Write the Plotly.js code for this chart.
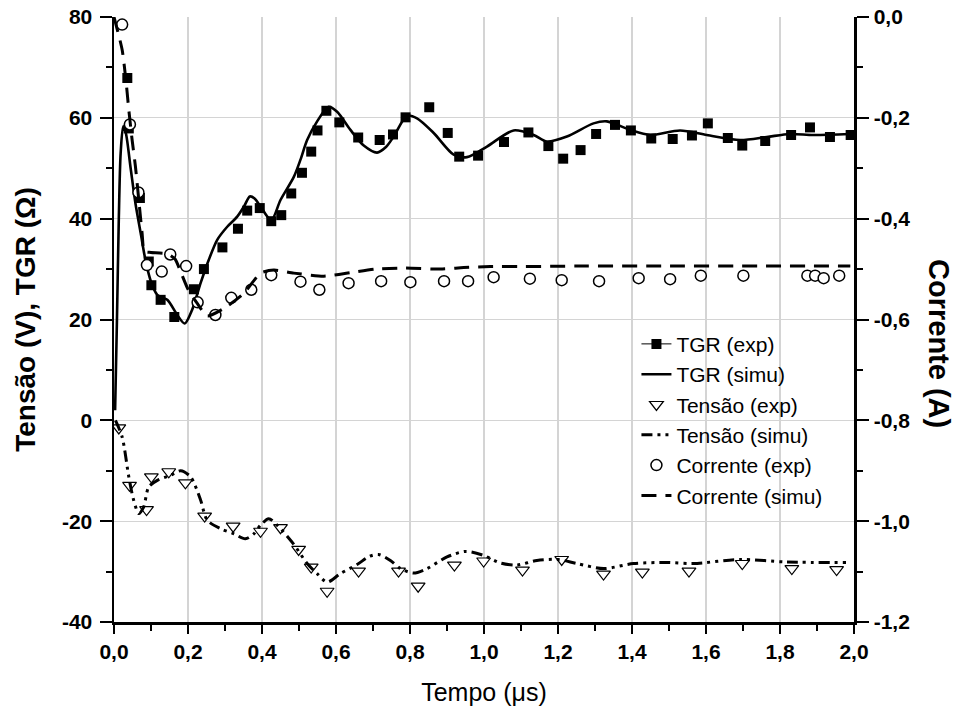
<!DOCTYPE html>
<html>
<head>
<meta charset="utf-8">
<script src="https://cdn.plot.ly/plotly-3.0.1.min.js"></script>
<style>
  html, body { margin: 0; padding: 0; background: #ffffff; }
  #chart { width: 958px; height: 715px; }
</style>
</head>
<body>
<div id="chart"></div>
<script>
// ---------- data (time in µs) ----------
// TGR experimental (Ω)
const tgrExpX = [0.036, 0.04, 0.07, 0.094, 0.101, 0.126, 0.163, 0.216, 0.243, 0.293, 0.335, 0.36, 0.394, 0.425, 0.452, 0.479, 0.508, 0.533, 0.55, 0.574, 0.609, 0.66, 0.718, 0.754, 0.788, 0.852, 0.902, 0.933, 0.984, 1.054, 1.12, 1.174, 1.214, 1.261, 1.303, 1.354, 1.397, 1.452, 1.51, 1.562, 1.605, 1.659, 1.698, 1.76, 1.83, 1.881, 1.935, 1.991];
const tgrExpY = [67.9, 57.9, 44.1, 31.5, 26.8, 23.9, 20.5, 26.0, 30.0, 34.3, 38.0, 41.6, 42.1, 39.5, 40.7, 45.0, 49.1, 53.3, 57.5, 61.4, 59.1, 56.1, 55.6, 56.7, 60.1, 62.1, 57.0, 52.3, 52.5, 55.2, 57.1, 54.4, 51.9, 53.6, 56.8, 58.6, 57.5, 55.9, 55.8, 56.5, 58.9, 56.0, 54.5, 55.4, 56.6, 58.1, 56.2, 56.6];

// TGR simulated (Ω)
const tgrSimX = [0.003, 0.008, 0.013, 0.018, 0.025, 0.032, 0.045, 0.058, 0.072, 0.085, 0.1, 0.117, 0.144, 0.171, 0.191, 0.211, 0.234, 0.256, 0.279, 0.306, 0.333, 0.352, 0.367, 0.38, 0.396, 0.425, 0.45, 0.486, 0.504, 0.522, 0.549, 0.58, 0.603, 0.639, 0.675, 0.711, 0.735, 0.756, 0.792, 0.819, 0.864, 0.918, 0.954, 1.008, 1.08, 1.134, 1.17, 1.224, 1.296, 1.332, 1.395, 1.449, 1.53, 1.602, 1.692, 1.764, 1.827, 1.89, 1.99];
const tgrSimY = [2, 20, 40, 53, 58.3, 57, 50, 43, 37.2, 31.8, 27.5, 24.9, 23.9, 20.9, 19.2, 21.9, 27.2, 31.8, 35.8, 38.4, 40.4, 42.5, 44.4, 44.0, 42.4, 39.7, 43.7, 48.3, 51.7, 55.6, 59.3, 62.2, 61.2, 57.6, 54.5, 53.1, 54.2, 56.3, 60.4, 59.9, 57.0, 52.7, 52.2, 54.3, 57.5, 56.6, 55.3, 56.3, 58.9, 59.3, 57.6, 56.6, 57.5, 56.6, 55.6, 56.2, 56.8, 56.6, 56.8];

// Tensão experimental (V)
const tenExpX = [0.013, 0.042, 0.088, 0.101, 0.148, 0.193, 0.245, 0.322, 0.396, 0.45, 0.499, 0.533, 0.576, 0.661, 0.769, 0.822, 0.92, 0.999, 1.104, 1.21, 1.323, 1.428, 1.554, 1.698, 1.832, 1.953];
const tenExpY = [-1.5, -12.9, -17.7, -11.2, -10.2, -12.4, -19.0, -21.0, -22.0, -21.3, -25.6, -29.1, -33.9, -29.9, -29.9, -32.9, -28.7, -27.9, -29.7, -27.6, -30.5, -30.1, -29.9, -28.4, -29.4, -29.6];

// Tensão simulated (V)
const tenSimX = [0.004, 0.022, 0.04, 0.053, 0.067, 0.08, 0.094, 0.117, 0.153, 0.18, 0.207, 0.234, 0.252, 0.288, 0.324, 0.355, 0.378, 0.396, 0.418, 0.441, 0.486, 0.522, 0.549, 0.576, 0.612, 0.657, 0.69, 0.715, 0.747, 0.774, 0.81, 0.846, 0.9, 0.95, 0.999, 1.044, 1.089, 1.143, 1.2, 1.251, 1.323, 1.404, 1.494, 1.566, 1.692, 1.818, 1.98];
const tenSimY = [0, -3.3, -11.2, -15.8, -18.5, -17.2, -13.2, -11.9, -10.9, -10.0, -11.2, -15.8, -19.8, -21.5, -22.5, -23.5, -22.5, -20.8, -19.5, -20.8, -24.6, -28.4, -30.4, -32.1, -30.4, -28.6, -27.0, -26.6, -27.8, -29.4, -30.3, -29.4, -27.1, -26.0, -26.8, -28.3, -28.7, -27.8, -27.6, -28.4, -29.4, -28.4, -28.2, -28.4, -27.6, -28.1, -28.2];

// Corrente experimental (A)
const corExpX = [0.022, 0.043, 0.066, 0.089, 0.129, 0.152, 0.195, 0.226, 0.274, 0.317, 0.371, 0.425, 0.504, 0.555, 0.634, 0.722, 0.801, 0.892, 0.957, 1.026, 1.124, 1.21, 1.311, 1.418, 1.503, 1.586, 1.701, 1.874, 1.895, 1.918, 1.96];
const corExpY = [-0.015, -0.213, -0.348, -0.492, -0.505, -0.471, -0.494, -0.566, -0.591, -0.557, -0.541, -0.512, -0.525, -0.541, -0.528, -0.524, -0.526, -0.524, -0.524, -0.516, -0.519, -0.522, -0.524, -0.518, -0.520, -0.513, -0.513, -0.513, -0.513, -0.518, -0.513];

// Corrente simulated (A)
const corSimX = [0.0, 0.022, 0.033, 0.04, 0.049, 0.058, 0.067, 0.076, 0.082, 0.1, 0.145, 0.165, 0.18, 0.2, 0.225, 0.252, 0.297, 0.351, 0.396, 0.432, 0.486, 0.567, 0.639, 0.706, 0.786, 0.882, 0.945, 1.017, 1.107, 1.251, 1.5, 1.75, 1.99];
const corSimY = [0.0, -0.065, -0.131, -0.184, -0.244, -0.297, -0.363, -0.429, -0.465, -0.467, -0.470, -0.480, -0.505, -0.540, -0.568, -0.593, -0.578, -0.548, -0.508, -0.502, -0.508, -0.514, -0.507, -0.500, -0.498, -0.500, -0.497, -0.495, -0.495, -0.494, -0.494, -0.494, -0.494];

// ---------- tick labels ----------
const xTickVals = [0, 0.2, 0.4, 0.6, 0.8, 1.0, 1.2, 1.4, 1.6, 1.8, 2.0];
const xTickText = ['0,0', '0,2', '0,4', '0,6', '0,8', '1,0', '1,2', '1,4', '1,6', '1,8', '2,0'];
const yTickVals = [-40, -20, 0, 20, 40, 60, 80];
const yTickText = ['-40', '-20', '0', '20', '40', '60', '80'];
const y2TickVals = [-1.2, -1.0, -0.8, -0.6, -0.4, -0.2, 0.0];
const y2TickText = ['-1,2', '-1,0', '-0,8', '-0,6', '-0,4', '-0,2', '0,0'];

const legendNames = ['TGR (exp)', 'TGR (simu)', 'Tensão (exp)', 'Tensão (simu)', 'Corrente (exp)', 'Corrente (simu)'];

// ---------- traces ----------
const FONT = 'Liberation Sans, Arial, Helvetica, sans-serif';

const traces = [
  // legend entry for TGR (exp) (line + square icon, as in the original legend)
  { x: [null], y: [null], mode: 'lines+markers', name: legendNames[0],
    line: { color: '#000', width: 1 }, marker: { symbol: 'square', size: 10, color: '#000' },
    xaxis: 'x', yaxis: 'y', hoverinfo: 'skip' },
  { x: tgrSimX, y: tgrSimY, mode: 'lines', name: legendNames[1],
    line: { color: '#000', width: 2.6, shape: 'spline', smoothing: 0.8 }, xaxis: 'x', yaxis: 'y' },
  { x: tenExpX, y: tenExpY, mode: 'markers', name: legendNames[2],
    marker: { symbol: 'triangle-down', size: 12, color: '#fff', line: { color: '#000', width: 1.2 } },
    xaxis: 'x', yaxis: 'y' },
  { x: tenSimX, y: tenSimY, mode: 'lines', name: legendNames[3],
    line: { color: '#000', width: 3, dash: '11px,5px,3px,5px,3px,5px', shape: 'spline', smoothing: 0.8 },
    xaxis: 'x', yaxis: 'y' },
  { x: corExpX, y: corExpY, mode: 'markers', name: legendNames[4],
    marker: { symbol: 'circle', size: 11, color: '#fff', line: { color: '#000', width: 1.5 } },
    xaxis: 'x', yaxis: 'y2' },
  { x: corSimX, y: corSimY, mode: 'lines', name: legendNames[5],
    line: { color: '#000', width: 3, dash: '15px,9px', shape: 'spline', smoothing: 0.6 },
    xaxis: 'x', yaxis: 'y2' },
  // TGR (exp) markers drawn on top
  { x: tgrExpX, y: tgrExpY, mode: 'markers', name: legendNames[0], showlegend: false,
    marker: { symbol: 'square', size: 10, color: '#000' }, xaxis: 'x', yaxis: 'y' }
];

const tickFont = { family: FONT, size: 21, color: '#000', weight: 'bold' };

const layout = {
  width: 958, height: 715,
  margin: { l: 114, r: 104, t: 17, b: 93, pad: 0 },
  paper_bgcolor: '#fff', plot_bgcolor: '#fff',
  showlegend: true,
  font: { family: FONT, color: '#000' },
  xaxis: {
    range: [0, 2], tickmode: 'array', tickvals: xTickVals, ticktext: xTickText,
    ticks: 'outside', ticklen: 9, tickwidth: 2, tickcolor: '#000',
    minor: { dtick: 0.1, ticks: 'outside', ticklen: 6, tickwidth: 2, tickcolor: '#000', showgrid: false },
    showline: true, linewidth: 2.5, linecolor: '#000',
    showgrid: true, gridcolor: '#d4d4d4', gridwidth: 1.3, zeroline: false,
    tickfont: tickFont,
    title: { text: 'Tempo (μs)', font: { family: FONT, size: 25, color: '#000' }, standoff: 22 }
  },
  xaxis2: {
    overlaying: 'x', side: 'top', anchor: 'y', range: [0, 2],
    tickmode: 'array', tickvals: xTickVals,
    ticks: 'inside', ticklen: 9, tickwidth: 2, tickcolor: '#000',
    minor: { dtick: 0.1, ticks: 'inside', ticklen: 6, tickwidth: 2, tickcolor: '#000', showgrid: false },
    showticklabels: false, showline: true, linewidth: 2.5, linecolor: '#000',
    showgrid: false, zeroline: false
  },
  yaxis: {
    range: [-40, 80], tickmode: 'array', tickvals: yTickVals, ticktext: yTickText,
    ticks: 'outside', ticklen: 12, tickwidth: 2, tickcolor: '#000',
    minor: { dtick: 10, ticks: 'outside', ticklen: 6, tickwidth: 2, tickcolor: '#000', showgrid: false },
    showline: true, linewidth: 2.5, linecolor: '#000',
    showgrid: true, gridcolor: '#d4d4d4', gridwidth: 1.3, zeroline: false,
    tickfont: tickFont, ticklabelstandoff: 3,
    title: { text: 'Tensão (V), TGR (Ω)', font: { family: FONT, size: 28, color: '#000', weight: 'bold' }, standoff: 18 }
  },
  yaxis2: {
    overlaying: 'y', side: 'right', anchor: 'x', range: [-1.2, 0],
    tickmode: 'array', tickvals: y2TickVals, ticktext: y2TickText,
    ticks: 'outside', ticklen: 12, tickwidth: 2, tickcolor: '#000',
    minor: { dtick: 0.1, ticks: 'outside', ticklen: 6, tickwidth: 2, tickcolor: '#000', showgrid: false },
    showline: true, linewidth: 2.5, linecolor: '#000',
    showgrid: false, zeroline: false, tickfont: tickFont, ticklabelstandoff: 1
  },
  yaxis3: {
    overlaying: 'y', side: 'right', anchor: 'x', range: [-1.2, 0],
    tickmode: 'array', tickvals: y2TickVals,
    ticks: 'inside', ticklen: 12, tickwidth: 2, tickcolor: '#000',
    minor: { dtick: 0.1, ticks: 'inside', ticklen: 6, tickwidth: 2, tickcolor: '#000', showgrid: false },
    showticklabels: false, showline: false, showgrid: false, zeroline: false
  },
  legend: {
    x: 0.706, y: 0.493, xanchor: 'left', yanchor: 'top',
    bgcolor: 'rgba(0,0,0,0)', borderwidth: 0,
    font: { family: FONT, size: 21, color: '#000' },
    traceorder: 'normal', tracegroupgap: 0, itemsizing: 'trace'
  },
  annotations: [
    { text: 'Corrente (A)', xref: 'paper', yref: 'paper', x: 1.1148, y: 0.4595,
      xanchor: 'center', yanchor: 'middle', showarrow: false, textangle: 90,
      font: { family: FONT, size: 29, color: '#000', weight: 'bold' } }
  ]
};

Plotly.newPlot('chart', traces, layout, { displayModeBar: false, staticPlot: true });
</script>
</body>
</html>
